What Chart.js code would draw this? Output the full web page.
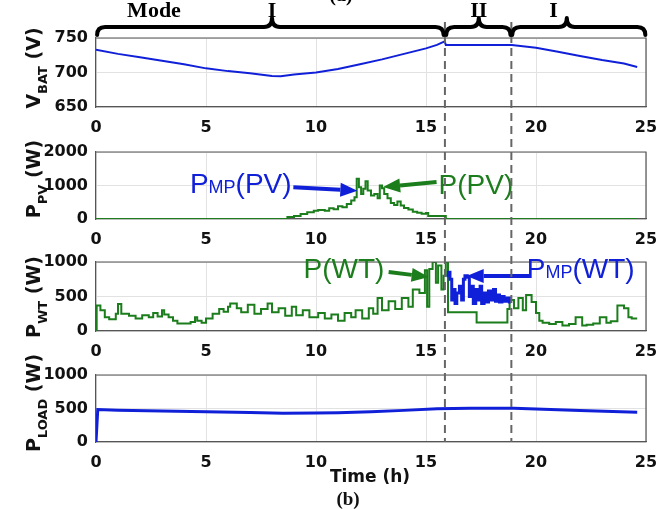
<!DOCTYPE html>
<html>
<head>
<meta charset="utf-8">
<script src="https://cdn.jsdelivr.net/npm/chart.js@4.4.1/dist/chart.umd.min.js"></script>
<style>
  html, body { margin: 0; padding: 0; background: #fff; }
  #wrap { position: relative; width: 672px; height: 509px; overflow: hidden; }
  #wrap canvas { position: absolute; left: 0; top: 0; }
</style>
</head>
<body>
<div id="wrap">
  <canvas id="cBat" width="672" height="509"></canvas>
  <canvas id="cPv" width="672" height="509"></canvas>
  <canvas id="cWt" width="672" height="509"></canvas>
  <canvas id="cLoad" width="672" height="509"></canvas>
</div>
<script>
// battery voltage (V)
const batT = [0, 1, 2, 3, 4, 5, 6, 7, 8, 8.4, 9, 10, 11, 12, 13, 14, 15, 15.5, 15.85, 15.9, 18.9, 20, 21, 22, 23, 24, 24.6];
const batV = [733, 727, 722, 717, 712, 706, 702, 699, 695, 694.5, 697, 700, 705, 712, 719, 727, 735, 740, 745, 740, 740, 736, 730, 724, 718, 713, 708];

// PV power (W)
const pvT = [0, 8.7, 9.0, 9.3, 9.6, 9.9, 10.1, 10.4, 10.6, 10.8, 11.0, 11.2, 11.4, 11.6, 11.75, 11.85, 11.95, 12.05, 12.15, 12.25, 12.35, 12.5, 12.65, 12.8, 12.9, 13.0, 13.1, 13.25, 13.4, 13.55, 13.7, 13.85, 14.0, 14.2, 14.4, 14.6, 14.8, 15.0, 15.1, 15.9, 24.6];
const pvV = [0, 60, 90, 150, 200, 250, 270, 250, 320, 290, 380, 350, 450, 550, 650, 1200, 950, 750, 900, 1130, 850, 700, 750, 620, 1000, 920, 750, 620, 480, 420, 520, 400, 330, 280, 220, 190, 160, 180, 90, 0, 0];

// wind turbine power (W)
const wtT = [0, 0.03, 0.2, 0.4, 0.6, 0.9, 1.0, 1.15, 1.5, 1.8, 2.1, 2.4, 2.6, 2.8, 3.0, 3.1, 3.3, 3.5, 3.7, 4.0, 4.3, 4.5, 4.6, 4.8, 5.0, 5.3, 5.6, 5.8, 6.0, 6.1, 6.4, 6.6, 6.9, 7.2, 7.5, 7.8, 8.0, 8.3, 8.6, 8.9, 9.1, 9.4, 9.7, 10.1, 10.4, 10.7, 11.0, 11.3, 11.6, 11.8, 12.1, 12.4, 12.6, 12.8, 13.0, 13.3, 13.6, 13.9, 14.2, 14.4, 14.7, 14.95, 15.05, 15.15, 15.3, 15.45, 15.55, 15.7, 15.8, 15.9, 16.0, 17.3, 17.45, 18.7, 18.8, 19.0, 19.2, 19.4, 19.55, 19.8, 20.0, 20.15, 20.3, 20.6, 20.9, 21.2, 21.5, 21.8, 22.1, 22.3, 22.6, 22.9, 23.2, 23.4, 23.7, 24.0, 24.2, 24.35, 24.6];
const wtV = [0, 370, 300, 200, 170, 250, 390, 250, 220, 180, 230, 200, 260, 210, 300, 240, 200, 150, 110, 110, 130, 200, 150, 120, 180, 250, 320, 280, 350, 400, 330, 270, 380, 250, 320, 400, 270, 330, 220, 350, 230, 300, 200, 260, 180, 240, 150, 260, 200, 300, 180, 330, 250, 480, 300, 430, 320, 480, 350, 600, 550, 880, 350, 900, 1000, 700, 950, 600, 800, 1000, 270, 125, 125, 320, 450, 330, 480, 300, 520, 420, 260, 150, 120, 100, 130, 80, 100, 200, 80, 90, 110, 200, 120, 140, 370, 330, 200, 180, 180];
// wind maximum power point (W), mode II only
const mpT = [15.94, 16.02, 16.09, 16.17, 16.24, 16.32, 16.4, 16.52, 16.62, 16.7, 16.77, 16.88, 16.97, 17.08, 17.15, 17.26, 17.35, 17.46, 17.53, 17.64, 17.73, 17.84, 17.94, 18.07, 18.16, 18.25, 18.34, 18.45, 18.55, 18.67, 18.79, 18.85];
const mpV = [800, 850, 750, 450, 600, 400, 550, 650, 450, 750, 800, 780, 500, 650, 400, 600, 450, 650, 400, 550, 420, 580, 450, 600, 430, 520, 420, 500, 430, 480, 420, 420];

// load power (W)
const loadT = [0, 0.08, 1, 3, 5, 7, 8.5, 10, 11, 12.5, 14, 15.5, 17, 19, 20, 22, 24.6];
const loadV = [0, 485, 475, 462, 452, 440, 430, 432, 436, 450, 472, 495, 503, 502, 492, 470, 445];

// operating modes
const modeEdges = [15.86, 18.88];
const modeNames = ['I', 'II', 'I'];
const modeLabelAt = [8.0, 17.4, 20.8];
const braceFrom = [0.05, 15.92, 18.92];
const braceTo = [15.8, 18.84, 24.97];
const bracePeak = [8.0, 17.4, 21.4];

const BLUE = '#1020d8';
const GREEN = '#1b7d1b';
const tickFont = { family: 'DejaVu Sans', size: 16, weight: 'bold' };

function pts(t, v) { return t.map((x, i) => ({ x: x, y: v[i] })); }

function yTitle(ctx, x, cy, main, sub, unit) {
  const fM = 'bold 19px "DejaVu Sans"', fS = 'bold 13px "DejaVu Sans"';
  ctx.save();
  ctx.translate(x, cy);
  ctx.rotate(-Math.PI / 2);
  ctx.fillStyle = '#111';
  ctx.font = fM;
  const wM = ctx.measureText(main).width, wU = ctx.measureText(' ' + unit).width;
  ctx.font = fS;
  const wS = ctx.measureText(sub).width;
  let sx = -(wM + wS + wU) / 2;
  ctx.font = fM; ctx.fillText(main, sx, 0); sx += wM;
  ctx.font = fS; ctx.fillText(sub, sx, 7); sx += wS;
  ctx.font = fM; ctx.fillText(' ' + unit, sx, 0);
  ctx.restore();
}

function label(ctx, x, y, a, sub, b, color) {
  ctx.save();
  ctx.fillStyle = color;
  ctx.font = '28px "Liberation Sans"';
  ctx.fillText(a, x, y);
  x += ctx.measureText(a).width;
  if (sub) {
    ctx.font = '18px "Liberation Sans"';
    ctx.fillText(sub, x, y);
    x += ctx.measureText(sub).width;
  }
  ctx.font = '28px "Liberation Sans"';
  ctx.fillText(b, x, y);
  ctx.restore();
}

function arrow(ctx, x1, y1, x2, y2, color) {
  const ang = Math.atan2(y2 - y1, x2 - x1), L = 17, W = 7;
  const bx = x2 - L * Math.cos(ang), by = y2 - L * Math.sin(ang);
  ctx.save();
  ctx.strokeStyle = color; ctx.fillStyle = color; ctx.lineWidth = 4;
  ctx.beginPath(); ctx.moveTo(x1, y1); ctx.lineTo(bx, by); ctx.stroke();
  ctx.beginPath();
  ctx.moveTo(x2, y2);
  ctx.lineTo(bx + W * Math.sin(ang), by - W * Math.cos(ang));
  ctx.lineTo(bx - W * Math.sin(ang), by + W * Math.cos(ang));
  ctx.closePath(); ctx.fill();
  ctx.restore();
}

function brace(ctx, x1, x2, xp) {
  const yb = 27, ye = 35, yp = 18, r = 8;
  ctx.beginPath();
  ctx.moveTo(x1, ye);
  ctx.quadraticCurveTo(x1, yb, x1 + r, yb);
  ctx.lineTo(xp - r, yb);
  ctx.quadraticCurveTo(xp, yb, xp, yp);
  ctx.quadraticCurveTo(xp, yb, xp + r, yb);
  ctx.lineTo(x2 - r, yb);
  ctx.quadraticCurveTo(x2, yb, x2, ye);
  ctx.stroke();
}

function panel(id, o) {
  return new Chart(document.getElementById(id), {
    type: 'line',
    data: { datasets: o.datasets },
    options: {
      responsive: false,
      animation: false,
      events: [],
      layout: { padding: { top: o.top, bottom: 509 - o.bottom - 40, left: 0, right: 26 } },
      elements: { point: { radius: 0 }, line: { tension: 0 } },
      plugins: { legend: { display: false }, tooltip: { enabled: false } },
      scales: {
        x: {
          type: 'linear', min: 0, max: 25,
          afterFit: s => { s.height = 40; },
          ticks: { stepSize: 5, font: tickFont, color: '#111', padding: 11, maxRotation: 0, callback: v => String(v) },
          grid: { color: '#e2e2e2', drawTicks: false },
          border: { color: '#555', width: 1.2 }
        },
        y: {
          min: o.yMin, max: o.yMax,
          afterFit: s => { s.width = 96; },
          ticks: { stepSize: o.yStep, font: tickFont, color: '#111', padding: 8, callback: v => String(v) },
          grid: { color: '#e2e2e2', drawTicks: false },
          border: { color: '#555', width: 1.2 }
        }
      }
    },
    plugins: [{
      id: 'deco',
      afterDraw(chart) {
        const ctx = chart.ctx, a = chart.chartArea;
        ctx.save();
        ctx.strokeStyle = '#555'; ctx.lineWidth = 1.2;
        ctx.beginPath(); ctx.moveTo(a.left, a.top); ctx.lineTo(a.right, a.top); ctx.lineTo(a.right, a.bottom); ctx.stroke();
        ctx.restore();
        yTitle(ctx, 40, o.titleY, o.title[0], o.title[1], o.title[2]);
        if (o.extra) {
          const X = v => chart.scales.x.getPixelForValue(v);
          const Y = v => chart.scales.y.getPixelForValue(v);
          o.extra(chart, ctx, X, Y);
        }
      }
    }]
  });
}

panel('cBat', {
  top: 38, bottom: 107, yMin: 650, yMax: 750, yStep: 50,
  title: ['V', 'BAT', '(V)'], titleY: 68,
  datasets: [{ data: pts(batT, batV), borderColor: BLUE, borderWidth: 2 }]
});

panel('cPv', {
  top: 152, bottom: 219, yMin: 0, yMax: 2000, yStep: 1000,
  title: ['P', 'PV', '(W)'], titleY: 179,
  datasets: [{ data: pts(pvT, pvV), borderColor: GREEN, borderWidth: 2, stepped: true }],
  extra(chart, ctx, X, Y) {
    label(ctx, X(4.27), Y(776), 'P', 'MP', '(PV)', BLUE);
    arrow(ctx, X(8.97), Y(946), X(11.88), Y(845), BLUE);
    label(ctx, X(15.57), Y(746), 'P', '', '(PV)', GREEN);
    arrow(ctx, X(15.48), Y(1104), X(13.05), Y(955), GREEN);
  }
});

panel('cWt', {
  top: 262, bottom: 331, yMin: 0, yMax: 1000, yStep: 500,
  title: ['P', 'WT', '(W)'], titleY: 297,
  datasets: [
    { data: pts(mpT, mpV), borderColor: BLUE, borderWidth: 3, stepped: true },
    { data: pts(wtT, wtV), borderColor: GREEN, borderWidth: 2, stepped: true }
  ],
  extra(chart, ctx, X, Y) {
    label(ctx, X(9.43), Y(765), 'P', '', '(WT)', GREEN);
    arrow(ctx, X(13.3), Y(855), X(15.12), Y(783), GREEN);
    label(ctx, X(19.58), Y(765), 'P', 'MP', '(WT)', BLUE);
    arrow(ctx, X(19.7), Y(797), X(16.85), Y(797), BLUE);
  }
});

panel('cLoad', {
  top: 375, bottom: 442, yMin: 0, yMax: 1000, yStep: 500,
  title: ['P', 'LOAD', '(W)'], titleY: 403,
  datasets: [{ data: pts(loadT, loadV), borderColor: BLUE, borderWidth: 3 }],
  extra(chart, ctx, X) {
    ctx.save();
    ctx.strokeStyle = '#666'; ctx.lineWidth = 2; ctx.setLineDash([8, 5]);
    modeEdges.forEach(t => {
      ctx.beginPath(); ctx.moveTo(X(t), 22); ctx.lineTo(X(t), chart.chartArea.bottom); ctx.stroke();
    });
    ctx.restore();

    ctx.save();
    ctx.strokeStyle = '#000'; ctx.lineWidth = 4; ctx.lineJoin = 'round'; ctx.lineCap = 'round';
    braceFrom.forEach((t, i) => brace(ctx, X(t), X(braceTo[i]), X(bracePeak[i])));
    ctx.fillStyle = '#000';
    ctx.textAlign = 'center';
    ctx.font = 'bold 22px "Liberation Serif"';
    ctx.fillText('Mode', 154, 17);
    modeNames.forEach((m, i) => ctx.fillText(m, X(modeLabelAt[i]), 17));
    ctx.font = 'bold 20px "Liberation Serif"';
    ctx.fillText('(a)', 341, 1);
    ctx.textBaseline = 'middle';
    ctx.font = 'bold 17px "DejaVu Sans"';
    ctx.fillStyle = '#111';
    ctx.fillText('Time (h)', 370, 478);
    ctx.font = 'bold 19px "Liberation Serif"';
    ctx.fillText('(b)', 348, 500);
    ctx.restore();
  }
});
</script>
</body>
</html>
